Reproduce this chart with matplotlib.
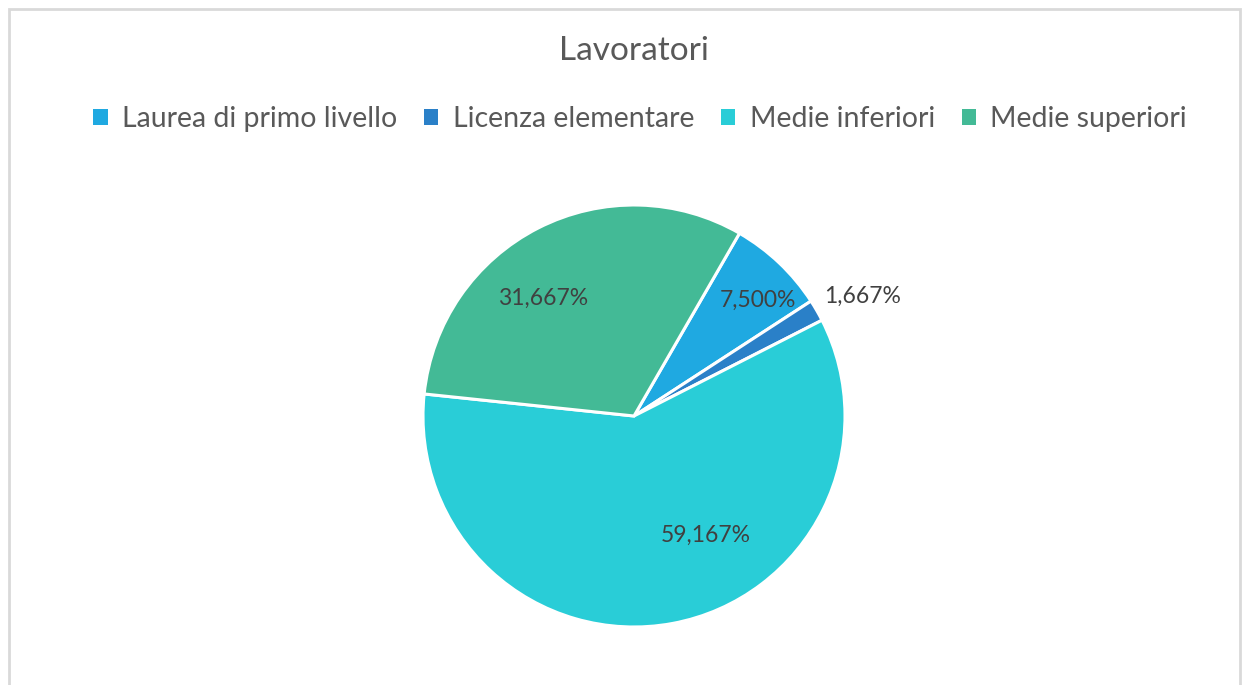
import matplotlib
matplotlib.use("Agg")
import matplotlib.pyplot as plt
from matplotlib.patches import Rectangle, Patch

categories = ["Laurea di primo livello", "Licenza elementare", "Medie inferiori", "Medie superiori"]
values = [7.500, 1.667, 59.167, 31.667]
labels = ["7,500%", "1,667%", "59,167%", "31,667%"]
colors = ["#1FA9E1", "#2A80C8", "#29CDD7", "#43BA96"]
# label placement (pie units, radius = 1)
label_pos = [(0.588, 0.550), (1.081, 0.569), (0.341, -0.564), (-0.431, 0.559)]

plt.rcParams['font.family'] = ['Lato', 'DejaVu Sans']

fig = plt.figure(figsize=(12.48, 6.85), dpi=100)
fig.patch.set_facecolor("white")

# chart border
fig.patches.append(Rectangle((9 / 1248, -0.05), (1240 - 9) / 1248, 1.05 - 9 / 685,
                             transform=fig.transFigure, fill=False,
                             edgecolor="#D9D9D9", linewidth=2))

ax = fig.add_axes([(634 - 211) / 1248, (685 - 627) / 685, 422 / 1248, 422 / 685])
wedges, _ = ax.pie(values, colors=colors, startangle=60, counterclock=False,
                   wedgeprops=dict(edgecolor="white", linewidth=2.2))
ax.set_xlim(-1, 1)
ax.set_ylim(-1, 1)
ax.set_aspect("equal")

for (x, y), txt in zip(label_pos, labels):
    ax.text(x, y, txt, ha="center", va="center", fontsize=16.5, color="#404040", clip_on=False)

fig.text(0.508, 1 - 51 / 685, "Lavoratori", ha="center", va="center", fontsize=24, color="#595959")

handles = [Patch(facecolor=c, edgecolor="none") for c in colors]
fig.legend(handles, categories, loc="center", bbox_to_anchor=(0.513, 1 - 119 / 685), ncol=4,
           frameon=False, fontsize=20.5, labelcolor="#595959", handlelength=0.5, handleheight=0.5,
           handletextpad=0.5, columnspacing=0.95)

fig.savefig("out.png", dpi=100, facecolor="white")
